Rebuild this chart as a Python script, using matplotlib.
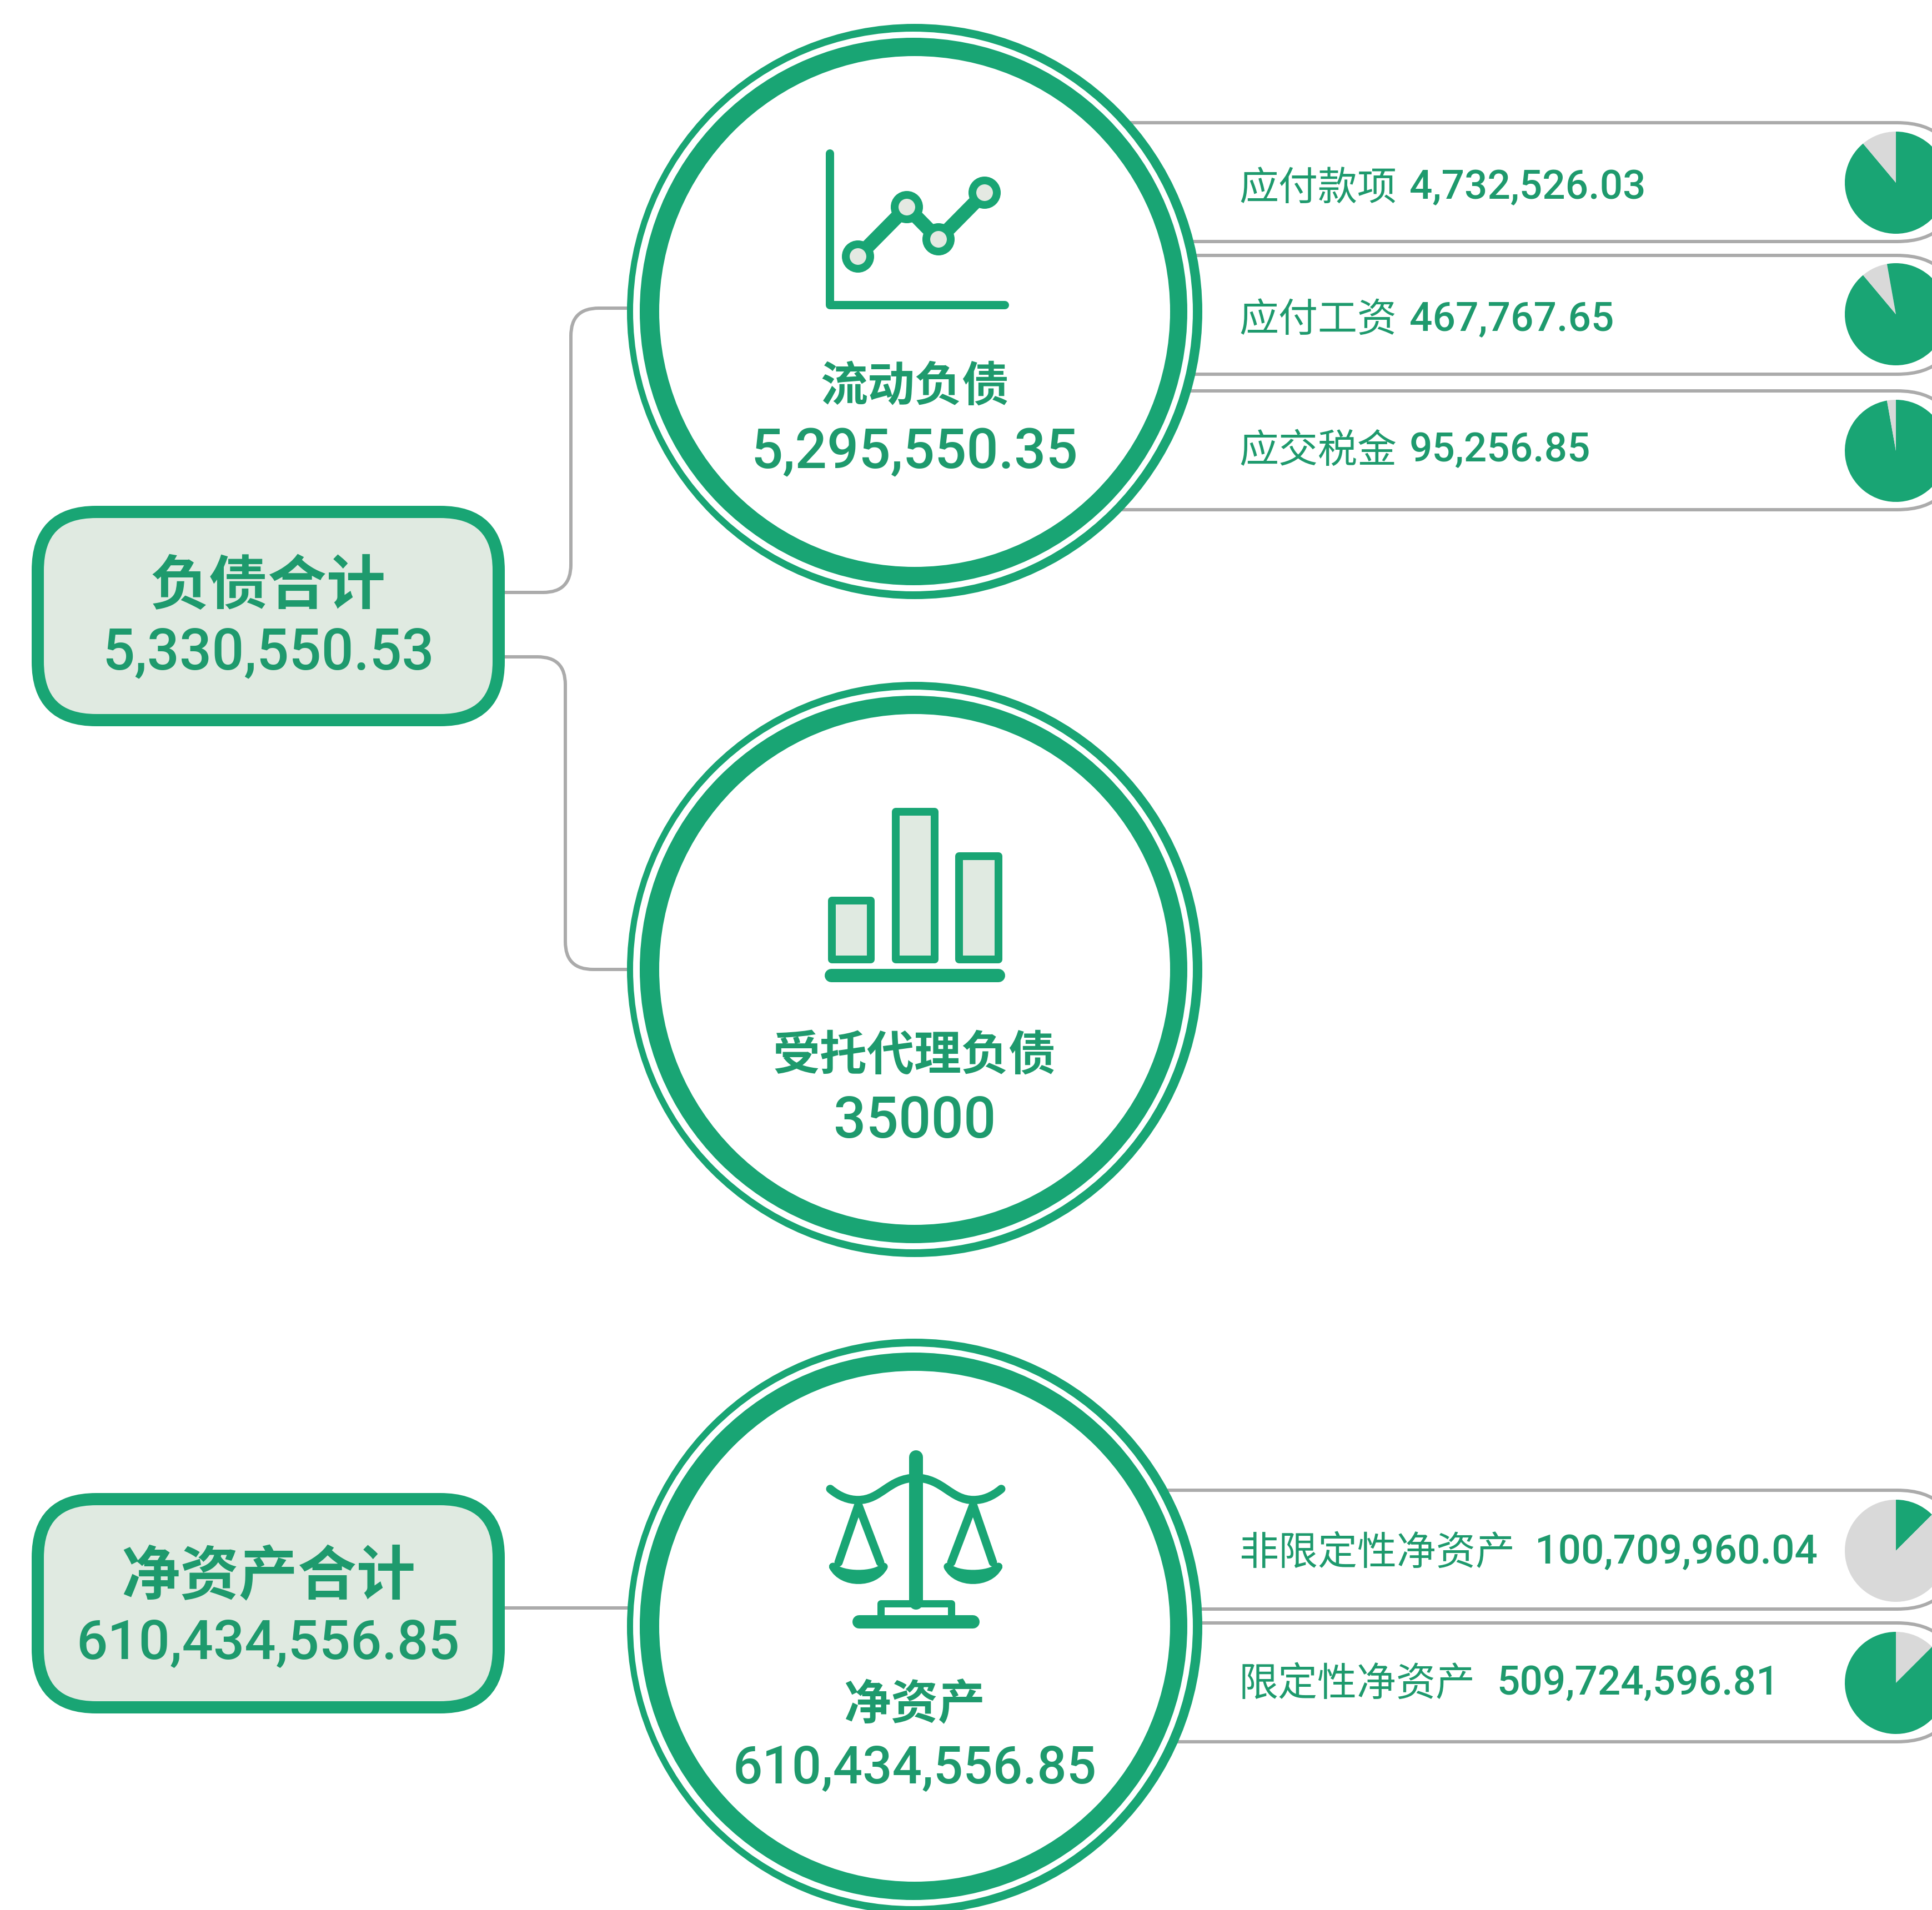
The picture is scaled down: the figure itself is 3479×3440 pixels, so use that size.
import matplotlib
matplotlib.use("Agg")
import matplotlib.pyplot as plt
from matplotlib.patches import Circle, FancyBboxPatch, PathPatch, Rectangle
from matplotlib.path import Path

W, H = 3480, 3441
PT = 0.72
GREEN = "#19A574"
TEXT = "#1E9A6D"
PALE = "#E0EAE1"
DOT = "#E4E9E2"
GREY = "#ABABAB"
PIEGREY = "#D9D9D9"
CJK = ["Noto Sans CJK SC", "DejaVu Sans"]
NUM = ["Roboto", "DejaVu Sans"]

# --- content -----------------------------------------------------------
total_names = ["负债合计", "净资产合计"]
total_values = ["5,330,550.53", "610,434,556.85"]
group_names = ["流动负债", "受托代理负债", "净资产"]
group_values = ["5,295,550.35", "35000", "610,434,556.85"]
item_names = ["应付款项", "应付工资", "应交税金", "非限定性净资产", "限定性净资产"]
item_values = ["4,732,526.03", "467,767.65", "95,256.85", "100,709,960.04", "509,724,596.81"]
# pie slices, clockwise from twelve o'clock
pie_shares = [[0.889, 0.111], [0.889, 0.083, 0.028], [0.972, 0.028], [0.125, 0.875], [0.125, 0.875]]
pie_colors = [[GREEN, PIEGREY], [GREEN, PIEGREY, GREEN], [GREEN, PIEGREY], [GREEN, PIEGREY], [PIEGREY, GREEN]]

# --- layout ------------------------------------------------------------
box_tops = [912, 2690]
box_bottoms = [1309, 3087]
box_name_y = [1057, 2841]
box_value_y = [1177, 2961]
box_value_px = [102.5, 99]
circle_y = [562, 1747, 2930]
group_name_y = [696, 1901, 3071]
group_value_y = [816, 2021, 3186]
group_value_px = [101, 103, 94]
pill_tops = [222, 461, 705, 2685, 2924]
pill_bottoms = [436, 675, 919, 2899, 3138]
item_y = [339, 576, 812, 2797, 3033]
item_value_x = [2538, 2538, 2538, 2764, 2695]
pie_y = [330, 567, 813, 2794, 3032]

fig = plt.figure(figsize=(W / 100, H / 100), dpi=100, facecolor="white")
ax = fig.add_axes([0, 0, 1, 1])
ax.set_xlim(0, W)
ax.set_ylim(H, 0)
ax.axis("off")


def stroke(verts, codes=None, lw=6, color=GREY, z=1, cap="round", fc="none"):
    p = Path(verts, codes)
    ax.add_patch(PathPatch(p, fc=fc, ec=color, lw=lw * PT, capstyle=cap, joinstyle="round", zorder=z))


# connectors
M, L, C = Path.MOVETO, Path.LINETO, Path.CURVE3
stroke([(908, 1068), (978, 1068), (1028, 1068), (1028, 1018), (1028, 606), (1028, 556), (1078, 556), (1135, 556)],
       [M, L, C, C, L, C, C, L])
stroke([(908, 1184), (968, 1184), (1018, 1184), (1018, 1234), (1018, 1697), (1018, 1747), (1068, 1747), (1135, 1747)],
       [M, L, C, C, L, C, C, L])
stroke([(908, 2897), (1135, 2897)])

# pills
for t, b in zip(pill_tops, pill_bottoms):
    ax.add_patch(FancyBboxPatch((1800, t), 1723, b - t, boxstyle=f"round,pad=0,rounding_size={(b - t) / 2}",
                                fc="white", ec=GREY, lw=6 * PT, zorder=2))

# rings
for cy in circle_y:
    for cx, r, c in zip([1647, 1644, 1645, 1647], [518, 504, 493, 460], [GREEN, "white", GREEN, "white"]):
        ax.add_patch(Circle((cx, cy), r, fc=c, ec="none", zorder=3))

# left boxes
for t, b in zip(box_tops, box_bottoms):
    ax.add_patch(FancyBboxPatch((68, t + 11), 830, b - t - 22, boxstyle="round,pad=0,rounding_size=105",
                                fc=PALE, ec=GREEN, lw=22 * PT, zorder=3))

# line-chart icon
stroke([(1494, 277), (1494, 550), (1809, 550)], lw=15, color=GREEN, z=4)
icon_pts = [(1545, 463), (1633, 374), (1690, 432), (1773, 348)]
stroke(icon_pts, lw=25, color=GREEN, z=4)
for c in icon_pts:
    ax.add_patch(Circle(c, 22, fc=DOT, ec=GREEN, lw=14 * PT, zorder=5))

# bar icon
for x0, x1, top in [(1491, 1575, 1616), (1606, 1690, 1456), (1720, 1805, 1536)]:
    ax.add_patch(Rectangle((x0 + 7, top + 7), x1 - x0 - 14, 1736 - top - 14, fc=PALE, ec=GREEN,
                           lw=14 * PT, joinstyle="round", zorder=4))
stroke([(1497, 1758), (1798, 1758)], lw=24, color=GREEN, z=4)


# scale icon (coordinates in crop space)
def sc(x, y):
    return (1400 + x / 3, 2580 + y / 3)


stroke([sc(747, 135), sc(747, 920)], lw=25, color=GREEN, z=4)
C4 = Path.CURVE4
for mirror in (False, True):
    def s(x, y):
        return sc(1494 - x, y) if mirror else sc(x, y)
    stroke([s(285, 308), s(335, 350), s(385, 368), s(435, 368), s(560, 368), s(600, 250), s(747, 248)],
           [M, C4, C4, C4, C4, C4, C4], lw=15, color=GREEN, z=4)
    stroke([s(330, 705), s(437, 395), s(555, 705)], lw=15, color=GREEN, z=4)
    stroke([s(300, 728), s(350, 825), s(525, 825), s(575, 728), s(525, 779), s(350, 779), s(300, 728)],
           [M, C4, C4, C4, C4, C4, C4], lw=14, color=GREEN, z=4, fc=GREEN)
stroke([sc(558, 1005), sc(558, 927), sc(940, 927), sc(940, 1005)], lw=13, color=GREEN, z=4)
stroke([sc(440, 1025), sc(1055, 1025)], lw=24, color=GREEN, z=4)


# text
def txt(x, y, s, px, fam, ha="center", weight="normal"):
    ax.text(x, y, s, fontsize=px * PT, family=fam, color=TEXT, ha=ha, va="center", weight=weight, zorder=6)


for n, v, ny, vy, vp in zip(total_names, total_values, box_name_y, box_value_y, box_value_px):
    txt(483, ny, n, 106, CJK, weight="bold")
    txt(483, vy, v, vp, NUM, weight=500)
for n, v, ny, vy, vp in zip(group_names, group_values, group_name_y, group_value_y, group_value_px):
    txt(1647, ny, n, 85, CJK, weight="bold")
    txt(1647, vy, v, vp, NUM, weight=500)
for n, v, vx, y in zip(item_names, item_values, item_value_x, item_y):
    txt(2231, y, n, 71, CJK, ha="left", weight=500)
    txt(vx, y, v, 73, NUM, ha="left", weight=500)

# pies
for shares, colors, cy in zip(pie_shares, pie_colors, pie_y):
    r = 92
    a = fig.add_axes([(3414 - r) / W, 1 - (cy + r) / H, 2 * r / W, 2 * r / H])
    a.pie(shares, colors=colors, startangle=90, counterclock=False, radius=1,
          wedgeprops={"linewidth": 0})
    a.set_xlim(-1, 1)
    a.set_ylim(-1, 1)
    a.set_zorder(10)
    a.patch.set_alpha(0)

fig.savefig("out.png", dpi=100, facecolor="white")
